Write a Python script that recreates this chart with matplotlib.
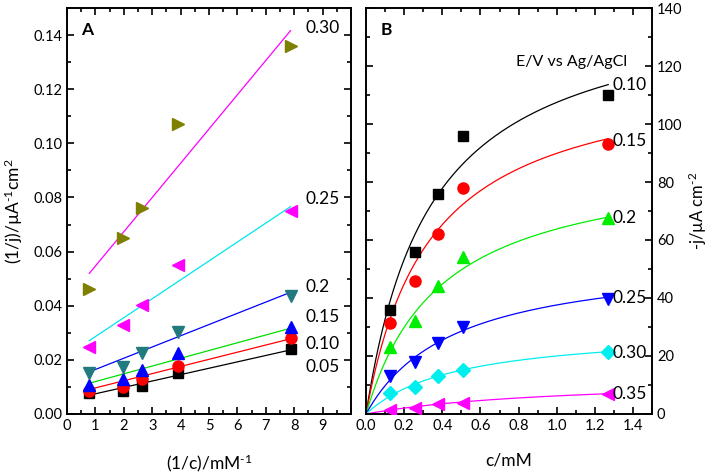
import numpy as np
import matplotlib
matplotlib.use("Agg")
import matplotlib.pyplot as plt
from matplotlib.ticker import MultipleLocator

plt.rcParams['font.family'] = ['Lato', 'DejaVu Sans']
plt.rcParams['mathtext.fontset'] = 'custom'
plt.rcParams['mathtext.rm'] = 'Lato'
plt.rcParams['mathtext.it'] = 'Lato'

# ---------------- data ----------------
conc = [0.127, 0.255, 0.38, 0.51, 1.27]          # c / mM (panel B)
inv_conc = [0.787, 1.96, 2.63, 3.92, 7.87]       # 1/c / mM^-1 (panel A)

# Panel A: 1/j values
a_labels = ["0.05", "0.10", "0.15", "0.2", "0.25", "0.30"]
a_005 = [0.0077, 0.0086, 0.0105, 0.0150, 0.0239]
a_010 = [0.0086, 0.0099, 0.0128, 0.0179, 0.0280]
a_015 = [0.0107, 0.0129, 0.0163, 0.0224, 0.0323]
a_020 = [0.0150, 0.0175, 0.0224, 0.0304, 0.0436]
a_025 = [0.0249, 0.0329, 0.0403, 0.0550, 0.0750]
a_030 = [0.0460, 0.0650, 0.0760, 0.1070, 0.1360]
# linear fit lines (slope, intercept)
a_slope = [0.00236, 0.00264, 0.00287, 0.00415, 0.00699, 0.01266]
a_icept = [0.0051, 0.0070, 0.0091, 0.0123, 0.0216, 0.0420]

# Panel B: -j values
b_labels = ["0.10", "0.15", "0.2", "0.25", "0.30", "0.35"]
b_010 = [36, 56, 76, 96, 110]
b_015 = [31.5, 46, 62, 78, 93]
b_020 = [23, 32, 44, 54, 67.5]
b_025 = [13, 18, 24.5, 30, 39.5]
b_030 = [7.3, 9.4, 13, 15, 21.5]
b_035 = [1.5, 2, 3.3, 3.7, 7]
# Michaelis-Menten fit curves (jmax, K)
b_jmax = [144, 120, 89, 55, 29.6, 12.8]
b_km = [0.34, 0.335, 0.395, 0.463, 0.479, 1.05]

# ---------------- styles ----------------
a_series = [a_005, a_010, a_015, a_020, a_025, a_030]
a_mk = ['s', 'o', '^', 'v', '<', '>']
a_mcol = ['black', 'red', 'blue', '#217a7e', '#ff00ff', '#7f7f00']
a_lcol = ['black', 'red', '#00dd00', 'blue', '#00e5ee', '#ff00ff']
a_ms = [6.5, 8, 8.5, 8.5, 8.5, 8.5]
a_label_y = [0.0174, 0.0259, 0.0359, 0.0470, 0.0795, 0.1427]

b_series = [b_010, b_015, b_020, b_025, b_030, b_035]
b_mk = ['s', 'o', '^', 'v', 'D', '<']
b_col = ['black', 'red', '#00ee00', 'blue', '#00eeee', '#ff00ff']
b_ms = [6.5, 8, 8.5, 8.5, 7, 8.5]

fig = plt.figure(figsize=(7.08, 4.74), dpi=100)
axA = fig.add_axes([0.0946, 0.1266, 0.4012, 0.8565])
axB = fig.add_axes([0.517, 0.1266, 0.404, 0.8565])

for ax in (axA, axB):
    for sp in ax.spines.values():
        sp.set_linewidth(1.4)
    ax.tick_params(which='both', direction='in', top=True, right=True,
                   labelsize=10.5, width=1.2)
    ax.tick_params(which='major', length=5)
    ax.tick_params(which='minor', length=3)

# Panel A
xs = np.array([inv_conc[0], inv_conc[-1]])
for i, ys in enumerate(a_series):
    axA.plot(xs, a_slope[i] * xs + a_icept[i], color=a_lcol[i], lw=0.9, zorder=2)
    axA.plot(inv_conc, ys, linestyle='none', marker=a_mk[i], color=a_mcol[i],
             ms=a_ms[i], mec=a_mcol[i], zorder=3)
    axA.text(8.4, a_label_y[i], a_labels[i], fontsize=12.5, ha='left', va='center')
axA.set_xlim(0, 10)
axA.set_ylim(0, 0.15)
axA.xaxis.set_major_locator(MultipleLocator(1))
axA.xaxis.set_minor_locator(MultipleLocator(0.5))
axA.yaxis.set_major_locator(MultipleLocator(0.02))
axA.yaxis.set_minor_locator(MultipleLocator(0.01))
axA.set_xticks(range(0, 11))
axA.set_xticklabels([str(i) for i in range(0, 10)] + [''])
axA.yaxis.set_major_formatter(matplotlib.ticker.FormatStrFormatter('%.2f'))
axA.tick_params(axis='y', labelleft=True, labelright=False)
axA.set_xlabel(r'(1/c)/mM$^{\text{-1}}$', fontsize=12.5, labelpad=14)
axA.set_ylabel(r'(1/j)/µA$^{\text{-1}}$cm$^{2}$', fontsize=12.5, labelpad=6)
axA.text(0.05, 0.965, 'A', transform=axA.transAxes, fontsize=12.5,
         fontweight='bold', ha='left', va='top')

# Panel B
cc = np.linspace(0, conc[-1], 200)
for i, ys in enumerate(b_series):
    axB.plot(cc, b_jmax[i] * cc / (b_km[i] + cc), color=b_col[i], lw=0.9, zorder=2)
    axB.plot(conc, ys, linestyle='none', marker=b_mk[i], color=b_col[i],
             ms=b_ms[i], mec=b_col[i], zorder=3)
b_label_y = [113.5, 94, 67.5, 40, 21, 7]
for i in range(6):
    axB.text(1.29, b_label_y[i], b_labels[i], fontsize=12.5, ha='left', va='center')
axB.text(1.37, 121.5, 'E/V vs Ag/AgCl', fontsize=11.5, ha='right', va='center')
axB.set_xlim(0, 1.5)
axB.set_ylim(0, 140)
axB.xaxis.set_major_locator(MultipleLocator(0.2))
axB.xaxis.set_minor_locator(MultipleLocator(0.1))
axB.yaxis.set_major_locator(MultipleLocator(20))
axB.yaxis.set_minor_locator(MultipleLocator(10))
axB.xaxis.set_major_formatter(matplotlib.ticker.FormatStrFormatter('%.1f'))
axB.tick_params(axis='y', labelleft=False, labelright=True)
axB.yaxis.set_label_position('right')
axB.set_xlabel('c/mM', fontsize=12.5, labelpad=14)
axB.set_ylabel(r'-j/µA cm$^{\text{-2}}$', fontsize=12, labelpad=3)
axB.text(0.05, 0.965, 'B', transform=axB.transAxes, fontsize=12.5,
         fontweight='bold', ha='left', va='top')

fig.savefig('out.png', dpi=100)
